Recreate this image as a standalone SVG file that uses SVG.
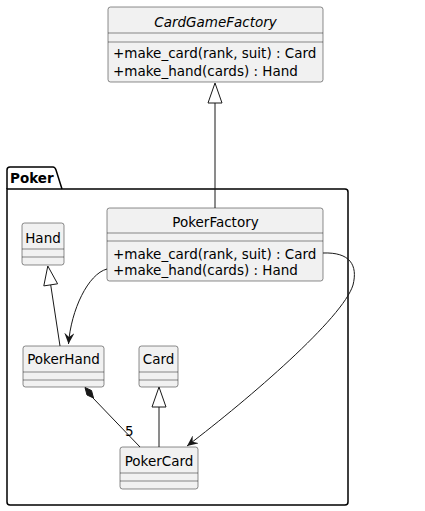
<svg xmlns="http://www.w3.org/2000/svg" width="425" height="511" viewBox="0 0 425 511">
<defs>
<style>
.box{fill:#F1F1F1;stroke:#181818;stroke-width:0.5}
.sep{stroke:#181818;stroke-width:0.5}
.t{font-family:"DejaVu Sans",Verdana,sans-serif;font-size:13.5px;fill:#000}
.c{text-anchor:middle}
.ln{fill:none;stroke:#181818;stroke-width:1}
.tri{fill:#FFFFFF;stroke:#181818;stroke-width:1}
</style>
<marker id="arr" viewBox="0 0 12 10" refX="11" refY="5" markerWidth="12" markerHeight="10" markerUnits="userSpaceOnUse" orient="auto">
<path d="M0,0 L11,5 L0,10 L4,5 Z" fill="#181818"/>
</marker>
</defs>
<rect width="425" height="511" fill="#FFFFFF"/>

<g id="pkg-Poker">
<path d="M7,189 L7,170 Q7,167 10,167 L53,167 Q55,167 56,170 L62,189" fill="none" stroke="#000" stroke-width="1.5"/>
<path d="M7,189 L345,189 Q348,189 348,192 L348,502 Q348,505 345,505 L10,505 Q7,505 7,502 Z" fill="none" stroke="#000" stroke-width="1.5"/>
<text class="t" x="10" y="183" font-weight="bold">Poker</text>
</g>

<g id="CardGameFactory">
<rect class="box" x="108" y="7" width="215" height="75" rx="2.5"/>
<text class="t c" x="215.5" y="27" font-style="italic">CardGameFactory</text>
<line class="sep" x1="108" y1="33" x2="323" y2="33"/>
<line class="sep" x1="108" y1="42" x2="323" y2="42"/>
<text class="t" x="113" y="58">+make_card(rank, suit) : Card</text>
<text class="t" x="113" y="76">+make_hand(cards) : Hand</text>
</g>

<g id="PokerFactory">
<rect class="box" x="107" y="208" width="216" height="73" rx="2.5"/>
<text class="t c" x="215.5" y="226.5">PokerFactory</text>
<line class="sep" x1="107" y1="233" x2="323" y2="233"/>
<line class="sep" x1="107" y1="241" x2="323" y2="241"/>
<text class="t" x="113" y="259">+make_card(rank, suit) : Card</text>
<text class="t" x="113" y="275">+make_hand(cards) : Hand</text>
</g>

<g id="Hand">
<rect class="box" x="22" y="223" width="42" height="42" rx="2.5"/>
<text class="t c" x="43" y="242.5">Hand</text>
<line class="sep" x1="22" y1="249" x2="64" y2="249"/>
<line class="sep" x1="22" y1="257" x2="64" y2="257"/>
</g>

<g id="PokerHand">
<rect class="box" x="23" y="346" width="81" height="41" rx="2.5"/>
<text class="t c" x="63.5" y="364">PokerHand</text>
<line class="sep" x1="23" y1="372" x2="104" y2="372"/>
<line class="sep" x1="23" y1="380" x2="104" y2="380"/>
</g>

<g id="Card">
<rect class="box" x="139" y="346" width="39" height="41" rx="2.5"/>
<text class="t c" x="158.5" y="364">Card</text>
<line class="sep" x1="139" y1="372" x2="178" y2="372"/>
<line class="sep" x1="139" y1="380" x2="178" y2="380"/>
</g>

<g id="PokerCard">
<rect class="box" x="120" y="447" width="78" height="42" rx="2.5"/>
<text class="t c" x="159" y="466">PokerCard</text>
<line class="sep" x1="120" y1="473" x2="198" y2="473"/>
<line class="sep" x1="120" y1="481" x2="198" y2="481"/>
</g>

<g id="connectors">
<line class="ln" x1="215" y1="103" x2="215" y2="208"/>
<polygon class="tri" points="215,83 208,103 222,103"/>
<line class="ln" x1="60" y1="346" x2="50.7" y2="284.8"/>
<polygon class="tri" points="47.8,266 43.8,285.9 57.6,283.8"/>
<line class="ln" x1="159" y1="447" x2="159" y2="407"/>
<polygon class="tri" points="159,387 152,407 166,407"/>
<path class="ln" d="M107,269 C88,274 71,310 68.5,344" marker-end="url(#arr)"/>
<path class="ln" d="M323,253 C350,252 358,265 353,285 C343,318 250,398 187,446" marker-end="url(#arr)"/>
<line class="ln" x1="93" y1="398" x2="140" y2="447"/>
<polygon points="85,387.5 91.5,390.5 93.5,398 87,395" fill="#181818" stroke="#181818" stroke-width="1"/>
<text class="t" x="125" y="436" font-size="13">5</text>
</g>
</svg>
